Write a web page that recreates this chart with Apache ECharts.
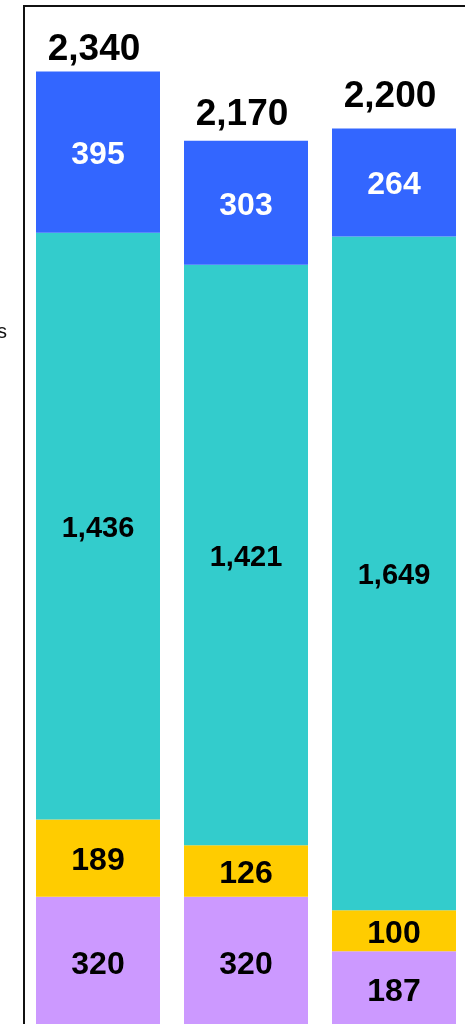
<!DOCTYPE html>
<html>
<head>
<meta charset="utf-8">
<script src="https://cdn.jsdelivr.net/npm/echarts@6/dist/echarts.min.js"></script>
<style>
  html, body { margin: 0; padding: 0; background: #fff; overflow: hidden; }
  #chart { position: absolute; left: 0; top: 0; width: 500px; height: 1100px; }
</style>
</head>
<body>
<div id="chart"></div>
<script>
// Stacked segments per column, bottom to top
const categories = ['1', '2', '3'];
const purpleValues = [320, 320, 187];
const yellowValues = [189, 126, 100];
const tealValues = [1436, 1421, 1649];
const blueValues = [395, 303, 264];

const yMax = 2500;
const FONT = '"Liberation Sans", Arial, Helvetica, sans-serif';

// Column totals shown above each stack
const totals = categories.map((_, i) =>
  purpleValues[i] + yellowValues[i] + tealValues[i] + blueValues[i]);

// Gap (px) between each stack top and its total label
const totalLabelGap = [3, 8, 13];

const fmt = v => v.toLocaleString('en-US');

function segment(name, data, color, labelColor, size) {
  return {
    name: name,
    type: 'bar',
    stack: 'total',
    barWidth: 124,
    data: data,
    itemStyle: { color: color },
    label: {
      show: true,
      position: 'inside',
      offset: [0, 3],
      color: labelColor,
      fontFamily: FONT,
      fontWeight: 'bold',
      fontSize: size,
      formatter: p => fmt(p.value)
    },
    silent: true
  };
}

const chart = echarts.init(document.getElementById('chart'), null, { renderer: 'canvas' });
chart.setOption({
  animation: false,
  backgroundColor: '#fff',
  grid: {
    show: true,
    left: 24, top: 6, width: 444, height: 1021.6,
    borderColor: '#111', borderWidth: 2,
    backgroundColor: 'transparent'
  },
  xAxis: {
    type: 'category',
    data: categories,
    axisLine: { show: false },
    axisTick: { show: false },
    axisLabel: { show: false }
  },
  yAxis: {
    type: 'value',
    min: 0, max: yMax,
    axisLine: { show: false },
    axisTick: { show: false },
    axisLabel: { show: false },
    splitLine: { show: false }
  },
  graphic: [{
    type: 'text',
    left: -3, top: 322,
    style: { text: 's', font: '20px ' + FONT, fill: '#111' }
  }],
  series: [
    segment('purple', purpleValues, '#CC99FF', '#000', 32),
    segment('yellow', yellowValues, '#FFCC00', '#000', 32),
    segment('teal', tealValues, '#33CCCC', '#000', 29),
    segment('blue', blueValues, '#3366FF', '#fff', 32),
    {
      // invisible column spanning the full stack, carrying the total label
      name: 'total',
      type: 'bar',
      barWidth: 124,
      barGap: '-100%',
      z: 1,
      data: totals.map((v, i) => ({
        value: v,
        label: { distance: totalLabelGap[i] }
      })),
      itemStyle: { color: 'rgba(0,0,0,0)' },
      label: {
        show: true,
        position: 'top',
        color: '#000',
        fontFamily: FONT,
        fontWeight: 'bold',
        fontSize: 37,
        padding: [0, 8, 0, 0],
        formatter: p => fmt(p.value)
      },
      silent: true
    }
  ]
});
</script>
</body>
</html>
